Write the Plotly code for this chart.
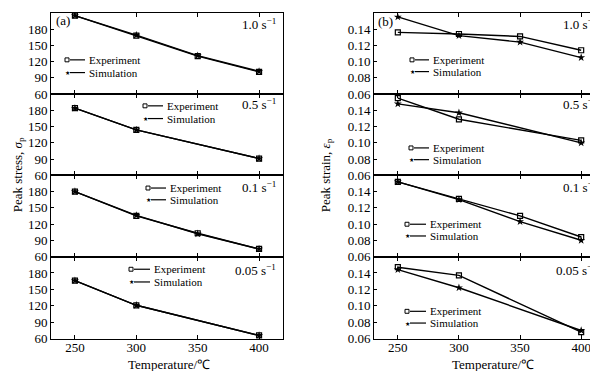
import plotly.graph_objects as go

temps_full = [250, 300, 350, 400]
temps_short = [250, 300, 400]
rates = ["1.0", "0.5", "0.1", "0.05"]

# Peak stress (left panels)
stress_exp = [
    [205, 168, 130, 101],
    [184, 144, 91],
    [180, 135, 103, 74],
    [166, 121, 66],
]
stress_sim = [
    [205, 169, 131, 102],
    [184, 144, 91],
    [180, 136, 102, 74],
    [166, 121, 66],
]
stress_temps = [temps_full, temps_short, temps_full, temps_short]

# Peak strain (right panels)
strain_exp = [
    [0.136, 0.134, 0.131, 0.114],
    [0.155, 0.129, 0.103],
    [0.152, 0.131, 0.110, 0.084],
    [0.147, 0.137, 0.068],
]
strain_sim = [
    [0.155, 0.132, 0.124, 0.105],
    [0.148, 0.137, 0.100],
    [0.152, 0.130, 0.103, 0.080],
    [0.144, 0.122, 0.070],
]
strain_temps = [temps_full, temps_short, temps_full, temps_short]

W, H = 598, 371
FONT = "Liberation Serif"

def px(x):
    return x / W

def py(y):
    return 1 - y / H

# panel boundaries (pixel y)
bounds = [5, 88, 171, 254, 338]
left_dom = [px(43), px(275)]
right_dom = [px(366), px(597)]

fig = go.Figure()
layout = dict(
    width=W, height=H, margin=dict(l=0, r=0, t=0, b=0),
    paper_bgcolor="white", plot_bgcolor="white",
    showlegend=False, font=dict(family=FONT, size=13, color="black"),
)

line_style = dict(color="black", width=1.4)

for side in range(2):
    for i in range(4):
        idx = side * 4 + i + 1
        xa = "x" if idx == 1 else f"x{idx}"
        ya = "y" if idx == 1 else f"y{idx}"
        if side == 0:
            t = stress_temps[i]; e = stress_exp[i]; s = stress_sim[i]
        else:
            t = strain_temps[i]; e = strain_exp[i]; s = strain_sim[i]
        fig.add_trace(go.Scatter(x=t, y=e, xaxis=xa, yaxis=ya, mode="lines+markers",
                                 line=line_style,
                                 marker=dict(symbol="square-open", size=5, color="black",
                                             line=dict(width=1.2, color="black")),
                                 name="Experiment"))
        fig.add_trace(go.Scatter(x=t, y=s, xaxis=xa, yaxis=ya, mode="lines+markers",
                                 line=line_style,
                                 marker=dict(symbol="star", size=6, color="black"),
                                 name="Simulation"))
        dom_y = [py(bounds[i + 1]), py(bounds[i])]
        xkey = "xaxis" if idx == 1 else f"xaxis{idx}"
        ykey = "yaxis" if idx == 1 else f"yaxis{idx}"
        layout[xkey] = dict(
            domain=left_dom if side == 0 else right_dom,
            anchor=ya, range=[230.5, 419.5],
            tickvals=temps_full, showticklabels=(i == 3),
            ticks="inside", ticklen=4, tickcolor="black",
            showline=True, linecolor="black", linewidth=1, mirror="ticks",
            showgrid=False, zeroline=False,
            ticklabelstandoff=-3,
            tickfont=dict(size=13, family=FONT),
        )
        if side == 0:
            yt = [60, 90, 120, 150, 180, 210] if i == 0 else [60, 90, 120, 150, 180]
            yr = [60, 210]
            fmt = "d"
        else:
            yt = [0.06, 0.08, 0.10, 0.12, 0.14, 0.16] if i == 0 else [0.06, 0.08, 0.10, 0.12, 0.14]
            yr = [0.06, 0.16]
            fmt = ".2f"
        layout[ykey] = dict(
            domain=dom_y, anchor=xa, range=yr, tickvals=yt, tickformat=fmt,
            ticks="inside", ticklen=3, tickcolor="black",
            showline=True, linecolor="black", linewidth=1, mirror=True,
            showgrid=False, zeroline=False,
            tickfont=dict(size=13, family=FONT),
        )

fig.update_layout(**layout)

annotations = []
shapes = []

# legend blocks: (square x, exp y, text x, sim y)
legend_pos = [
    (59, 53, 79, 66),
    (137, 100, 157, 113),
    (140, 184, 160, 196),
    (123, 267, 144, 280),
    (404, 53, 423, 65),
    (403, 143, 423, 155),
    (399, 221, 420, 233),
    (399, 310, 420, 322),
]
for (sx, ey, tx, sy) in legend_pos:
    for yy, label, kind in [(ey, "Experiment", "sq"), (sy, "Simulation", "star")]:
        shapes.append(dict(type="line", xref="paper", yref="paper",
                           x0=px(sx + 3), x1=px(tx - 2), y0=py(yy), y1=py(yy),
                           line=dict(color="black", width=1.2)))
        if kind == "sq":
            shapes.append(dict(type="rect", xref="paper", yref="paper",
                               x0=px(sx - 2), x1=px(sx + 2), y0=py(yy + 2), y1=py(yy - 2),
                               line=dict(color="black", width=1), fillcolor="white"))
        else:
            annotations.append(dict(text="★", xref="paper", yref="paper",
                                    x=px(sx), y=py(yy), xanchor="center", yanchor="middle",
                                    showarrow=False, font=dict(size=6, family="DejaVu Sans")))
        annotations.append(dict(text=label, xref="paper", yref="paper",
                                x=px(tx), y=py(yy), xanchor="left", yanchor="middle",
                                showarrow=False, font=dict(size=11, family=FONT)))

# rate labels
rate_y = [16, 98, 183, 268]
for side, rx in [(0, 270), (1, 591)]:
    for i, r in enumerate(rates):
        annotations.append(dict(text=f"{r} s<sup>−1</sup>", xref="paper", yref="paper",
                                x=px(rx), y=py(rate_y[i]), xanchor="right", yanchor="middle",
                                showarrow=False, font=dict(size=13, family=FONT)))

annotations.append(dict(text="(a)", xref="paper", yref="paper", x=px(46), y=py(13),
                        xanchor="left", yanchor="middle", showarrow=False,
                        font=dict(size=13, family=FONT)))
annotations.append(dict(text="(b)", xref="paper", yref="paper", x=px(368), y=py(14),
                        xanchor="left", yanchor="middle", showarrow=False,
                        font=dict(size=13, family=FONT)))

annotations.append(dict(text="Peak stress, <i>σ</i><sub>p</sub>", xref="paper", yref="paper",
                        x=px(10), y=py(171), textangle=-90, xanchor="center", yanchor="middle",
                        showarrow=False, font=dict(size=13, family=FONT)))
annotations.append(dict(text="Peak strain, <i>ε</i><sub>p</sub>", xref="paper", yref="paper",
                        x=px(318), y=py(171), textangle=-90, xanchor="center", yanchor="middle",
                        showarrow=False, font=dict(size=13, family=FONT)))
annotations.append(dict(text="Temperature/℃", xref="paper", yref="paper",
                        x=px(161), y=py(364), xanchor="center", yanchor="middle",
                        showarrow=False, font=dict(size=13, family=FONT)))
annotations.append(dict(text="Temperature/℃", xref="paper", yref="paper",
                        x=px(485), y=py(364), xanchor="center", yanchor="middle",
                        showarrow=False, font=dict(size=13, family=FONT)))

fig.update_layout(annotations=annotations, shapes=shapes)
fig.write_html("out.html")
